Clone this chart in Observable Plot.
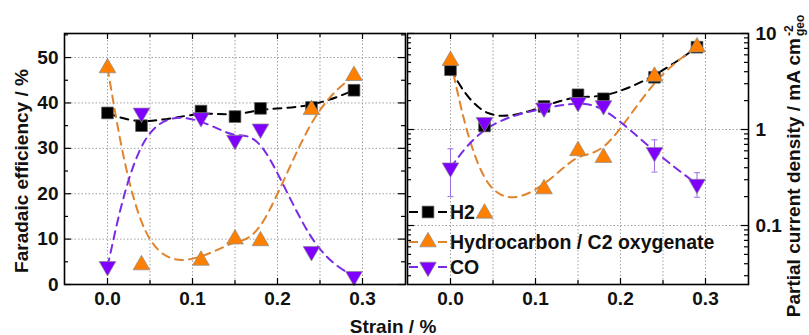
<!DOCTYPE html>
<html><head><meta charset="utf-8">
<script src="https://cdn.jsdelivr.net/npm/d3@7"></script>
<script src="https://cdn.jsdelivr.net/npm/@observablehq/plot@0.6"></script>
<style>
body{margin:0;background:#fff}
#wrap{position:relative;width:809px;height:335px;overflow:hidden;font-family:"Liberation Sans",Arial,sans-serif;font-weight:bold;color:#111}
#wrap > svg{position:absolute;top:0}
.lbl{position:absolute;font-size:19px;white-space:nowrap;line-height:1}
.rot{transform:translate(-50%,-50%) rotate(-90deg)}
.ss{display:inline-block;font-size:12px;line-height:0.95;vertical-align:-0.3em;margin-left:2px}
.ss span{display:block}
.leg{position:absolute;left:407px;height:24px;display:flex;align-items:center;font-size:19.5px;white-space:nowrap}
.leg svg{flex:none}
</style></head><body>
<div id="wrap"></div>
<script>
// ---- data ----
const strain = [0, 0.04, 0.11, 0.15, 0.18, 0.24, 0.29];
const feH2 = [37.8, 35.0, 38.2, 37.0, 38.8, 39.0, 42.8];
const feHC = [47.7, 4.3, 5.3, 10.0, 9.6, 38.5, 46.0];
const feCO = [4.0, 37.8, 36.8, 31.8, 34.3, 7.3, 1.8];
const jH2 = [4.2, 1.09, 1.74, 2.3, 2.09, 3.5, 7.2];
const jHC = [5.2, 0.134, 0.24, 0.60, 0.51, 3.57, 7.2];
const jCO = [0.40, 1.19, 1.68, 1.92, 1.78, 0.58, 0.27];
const jCOlo = [0.20, null, null, null, null, 0.36, 0.197];
const jCOhi = [0.63, null, null, null, null, 0.78, 0.355];
const seriesNames = ["H2", "Hydrocarbon / C2 oxygenate", "CO"];
const xTicks = [0, 0.1, 0.2, 0.3];
const xMinor = [0.05, 0.15, 0.25];
const feTicks = [0, 10, 20, 30, 40, 50];
const feMinor = [5, 15, 25, 35, 45, 55];
const jTicks = [0.1, 1, 10];
const jMinor = [0.03, 0.04, 0.05, 0.06, 0.07, 0.08, 0.09, 0.2, 0.3, 0.4, 0.5, 0.6, 0.7, 0.8, 0.9, 2, 3, 4, 5, 6, 7, 8, 9];
const xLabel = "Strain / %";
const yLabelLeft = "Faradaic efficiency / %";

// ---- styles ----
const sty = [
  {fill: "#000", stroke: "#555", line: "#000", symbol: "square", r: 6.6, rotate: 0},
  {fill: "#FF8000", stroke: "#8a8a8a", line: "#E0842E", symbol: "triangle", r: 6.2, rotate: 0},
  {fill: "#8000FF", stroke: "#8a8a8a", line: "#7A2BE6", symbol: "triangle", r: 6.2, rotate: 180}
];
const dash = "8,6";
const H = 335;
const FH = 251; // frame height (33..284)
const FW = 341;

const capSymbol = {draw(ctx, size) { const w = Math.sqrt(size) / 2; ctx.moveTo(-w, 0); ctx.lineTo(w, 0); }};

function rows(ys) { return strain.map((x, i) => ({x, y: ys[i]})); }

function panel({series, yOpts, yTicksMajor, yTicksMinor, gridY, axisAnchor, width, mL, mR, extra = [], tickFmt}) {
  const marks = [
    Plot.ruleX([0, 0.05, 0.1, 0.15, 0.2, 0.25, 0.3], {stroke: "#a0a0a0", strokeWidth: 1, strokeDasharray: "1.5,2"}),
    Plot.ruleY(gridY, {stroke: "#a0a0a0", strokeWidth: 1, strokeDasharray: "1.5,2"}),
  ];
  series.forEach((s, i) => marks.push(Plot.line(rows(s), {x: "x", y: "y", curve: "basis", stroke: sty[i].line, strokeWidth: 2, strokeDasharray: dash})));
  marks.push(...extra);
  series.forEach((s, i) => marks.push(Plot.dot(rows(s), {x: "x", y: "y", symbol: sty[i].symbol, r: sty[i].r, rotate: sty[i].rotate, fill: sty[i].fill, stroke: sty[i].stroke, strokeWidth: 0.7})));
  const tk = (vals, len) => [
    Plot.ruleY(vals, {y: d => d, insetRight: FW - len, stroke: "#000", strokeWidth: 1.2}),
    Plot.ruleY(vals, {y: d => d, insetLeft: FW - len, stroke: "#000", strokeWidth: 1.2}),
  ];
  const tkx = (vals, len) => [
    Plot.ruleX(vals, {x: d => d, insetTop: FH - len, stroke: "#000", strokeWidth: 1.2}),
    Plot.ruleX(vals, {x: d => d, insetBottom: FH - len, stroke: "#000", strokeWidth: 1.2}),
  ];
  marks.push(...tk(yTicksMajor, 7), ...tk(yTicksMinor, 4), ...tkx(xTicks, 6), ...tkx(xMinor, 4));
  marks.push(Plot.frame({stroke: "#000", strokeWidth: 1.6}));
  marks.push(Plot.axisX(xTicks, {tickSize: 0, tickPadding: 7, tickFormat: d3.format(".1f"), label: null}));
  marks.push(Plot.axisY(yTicksMajor, {anchor: axisAnchor, tickSize: 0, tickPadding: axisAnchor === "left" ? 6 : 7, tickFormat: tickFmt, label: null}));
  return Plot.plot({
    width, height: H, marginLeft: mL, marginRight: mR, marginTop: 33, marginBottom: 51,
    x: {domain: [-0.0506, 0.3506]},
    y: yOpts,
    style: {background: "none", font: "bold 19px 'Liberation Sans', Arial, sans-serif", color: "#111", overflow: "visible"},
    marks
  });
}

const wrap = document.getElementById("wrap");

const left = panel({
  series: [feH2, feHC, feCO],
  yOpts: {domain: [0, 55.3]},
  yTicksMajor: feTicks, yTicksMinor: feMinor, gridY: [10, 20, 30, 40, 50],
  axisAnchor: "left", width: 420, mL: 64, mR: 15, tickFmt: d => String(d)
});
left.style.left = "0px";
wrap.appendChild(left);

const errRows = strain.map((x, i) => ({x, lo: jCOlo[i], hi: jCOhi[i]})).filter(d => d.lo != null);
const right = panel({
  series: [jH2, jHC, jCO],
  yOpts: {type: "log", domain: [0.0243, 10]},
  yTicksMajor: jTicks, yTicksMinor: jMinor, gridY: [0.1, 1],
  axisAnchor: "right", width: 404, mL: 2, mR: 61, tickFmt: d => String(d),
  extra: [
    Plot.ruleX(errRows, {x: "x", y1: "lo", y2: "hi", stroke: "#9b6ee0", strokeWidth: 1}),
    Plot.dot(errRows, {x: "x", y: "lo", symbol: capSymbol, r: 3.4, fill: "none", stroke: "#9b6ee0", strokeWidth: 1}),
    Plot.dot(errRows, {x: "x", y: "hi", symbol: capSymbol, r: 3.4, fill: "none", stroke: "#9b6ee0", strokeWidth: 1})
  ]
});
right.style.left = "405px";
wrap.appendChild(right);

// ---- axis labels ----
function addLabel(html, x, y, rotate) {
  const d = document.createElement("div");
  d.className = "lbl" + (rotate ? " rot" : "");
  d.style.left = x + "px"; d.style.top = y + "px";
  if (!rotate) d.style.transform = "translate(-50%,-50%)";
  d.innerHTML = html;
  wrap.appendChild(d);
}
addLabel(xLabel, 393, 326, false);
addLabel(yLabelLeft, 21, 171, true);
addLabel('Partial current density / mA cm<span class="ss"><span>-2</span><span>geo</span></span>', 795, 166, true);

// ---- legend ----
const legY = [212, 242, 267];
seriesNames.forEach((name, i) => {
  const s = sty[i];
  const size = Math.PI * s.r * s.r;
  const symType = s.symbol === "square" ? d3.symbolSquare : d3.symbolTriangle;
  const p = d3.symbol(symType, size)();
  const row = document.createElement("div");
  row.className = "leg";
  row.style.top = (legY[i] - 12) + "px";
  row.innerHTML = `<svg width="43" height="24"><line x1="2" x2="11" y1="12" y2="12" stroke="${s.line}" stroke-width="2"/><line x1="31" x2="40" y1="12" y2="12" stroke="${s.line}" stroke-width="2"/><path d="${p}" transform="translate(21,12) rotate(${s.rotate})" fill="${s.fill}" stroke="${s.stroke}" stroke-width="0.7"/></svg><span>${name}</span>`;
  wrap.appendChild(row);
});
</script>
</body></html>
